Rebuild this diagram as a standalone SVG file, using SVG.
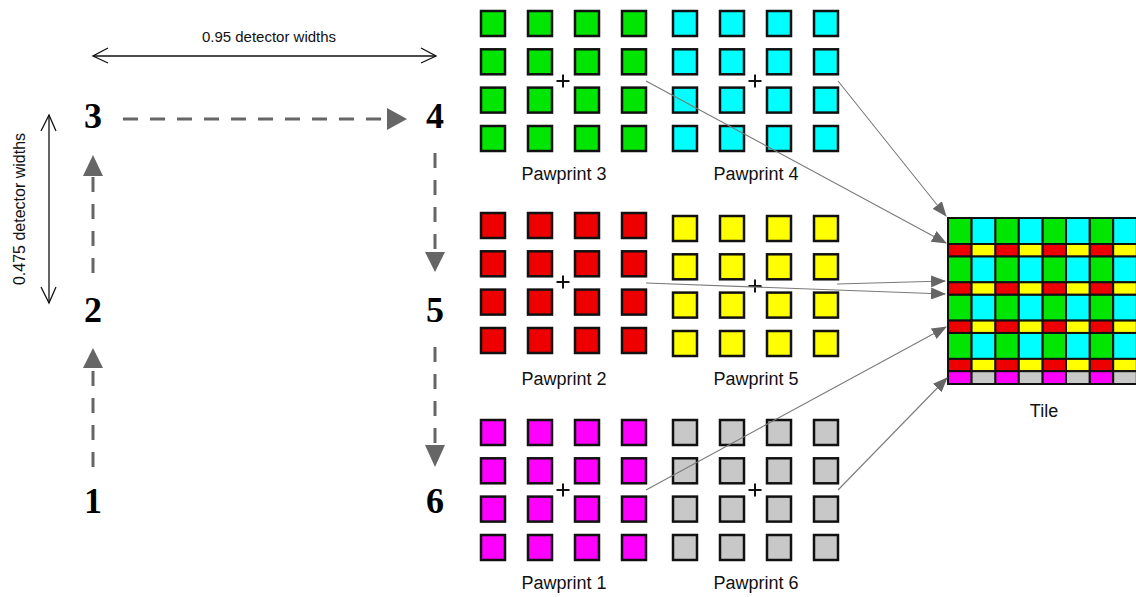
<svg xmlns="http://www.w3.org/2000/svg" width="1136" height="597" viewBox="0 0 1136 597">
<style>
.lbl{font-family:"Liberation Sans",Arial,sans-serif;font-size:18px;fill:#111;text-anchor:middle}
.dim{font-family:"Liberation Sans",Arial,sans-serif;font-size:15px;fill:#111;text-anchor:middle}
.num{font-family:"Liberation Serif","Times New Roman",serif;font-size:36px;font-weight:bold;fill:#000;text-anchor:middle}
.sq{stroke:#111;stroke-width:2.5}
.plus{stroke:#111;stroke-width:2;fill:none}
.dash{stroke:#666;stroke-width:3;stroke-dasharray:15 12;fill:none}
.head{fill:#666}
.thin{stroke:#7a7a7a;stroke-width:1.1;fill:none}
.dimline{stroke:#111;stroke-width:1.3;fill:none}
.t{stroke:#111;stroke-width:2}
</style>
<defs>
<marker id="ah" markerWidth="15" markerHeight="12" refX="14" refY="6" orient="auto" markerUnits="userSpaceOnUse">
<path d="M0,0 L15,6 L0,12 Z" fill="#666"/>
</marker>
<g id="grid">
<rect x="0" y="0" width="24" height="25"/><rect x="47" y="0" width="24" height="25"/><rect x="94" y="0" width="24" height="25"/><rect x="141" y="0" width="24" height="25"/>
<rect x="0" y="38.3" width="24" height="25"/><rect x="47" y="38.3" width="24" height="25"/><rect x="94" y="38.3" width="24" height="25"/><rect x="141" y="38.3" width="24" height="25"/>
<rect x="0" y="76.6" width="24" height="25"/><rect x="47" y="76.6" width="24" height="25"/><rect x="94" y="76.6" width="24" height="25"/><rect x="141" y="76.6" width="24" height="25"/>
<rect x="0" y="115" width="24" height="25"/><rect x="47" y="115" width="24" height="25"/><rect x="94" y="115" width="24" height="25"/><rect x="141" y="115" width="24" height="25"/>
</g>
<path id="plusShape" d="M-6.5,0 H6.5 M0,-6.5 V6.5"/>
</defs>
<rect width="1136" height="597" fill="#fff"/>

<!-- dimension arrows -->
<g id="dims">
<line class="dimline" x1="93" y1="56" x2="436" y2="56"/>
<path class="dimline" d="M108,48 L93,56 L108,63 M421,48 L436,56 L421,63"/>
<text class="dim" x="269" y="42">0.95 detector widths</text>
<line class="dimline" x1="49" y1="115" x2="49" y2="303"/>
<path class="dimline" d="M41,131 L49,115 L56,131 M41,287 L49,303 L56,287"/>
<text class="dim" style="font-size:16px" transform="translate(25,209) rotate(-90)">0.475 detector widths</text>
</g>

<!-- position numbers -->
<g id="positions">
<text class="num" x="93" y="513">1</text>
<text class="num" x="93" y="322">2</text>
<text class="num" x="93" y="128">3</text>
<text class="num" x="435" y="128">4</text>
<text class="num" x="435" y="322">5</text>
<text class="num" x="435" y="513">6</text>
</g>

<!-- dashed offsets -->
<g id="offsets">
<line class="dash" x1="93" y1="467" x2="93" y2="368"/>
<polygon class="head" points="93,348 83,368 103,368"/>
<line class="dash" x1="93" y1="273" x2="93" y2="176"/>
<polygon class="head" points="93,155 83,176 103,176"/>
<line class="dash" x1="123" y1="119" x2="388" y2="119"/>
<polygon class="head" points="407,119 387,108 387,130"/>
<line class="dash" x1="435" y1="153" x2="435" y2="252"/>
<polygon class="head" points="435,272 425,252 445,252"/>
<line class="dash" x1="435" y1="347" x2="435" y2="445"/>
<polygon class="head" points="435,467 425,445 445,445"/>
</g>

<!-- pawprints -->
<g id="pawprint3">
<use href="#grid" x="481" y="11" fill="#00e600" class="sq"/>
<use href="#plusShape" x="563" y="81" class="plus"/>
<text class="lbl" x="564" y="180">Pawprint 3</text>
</g>
<g id="pawprint4">
<use href="#grid" x="673" y="11" fill="#00ffff" class="sq"/>
<use href="#plusShape" x="755" y="81" class="plus"/>
<text class="lbl" x="756" y="180">Pawprint 4</text>
</g>
<g id="pawprint2">
<use href="#grid" x="481" y="213" fill="#ee0000" class="sq"/>
<use href="#plusShape" x="563" y="282" class="plus"/>
<text class="lbl" x="564" y="385">Pawprint 2</text>
</g>
<g id="pawprint5">
<use href="#grid" x="673" y="216" fill="#ffff00" class="sq"/>
<use href="#plusShape" x="755" y="286" class="plus"/>
<text class="lbl" x="756" y="385">Pawprint 5</text>
</g>
<g id="pawprint1">
<use href="#grid" x="481" y="420" fill="#ff00ff" class="sq"/>
<use href="#plusShape" x="563" y="490" class="plus"/>
<text class="lbl" x="564" y="589">Pawprint 1</text>
</g>
<g id="pawprint6">
<use href="#grid" x="673" y="420" fill="#c8c8c8" class="sq"/>
<use href="#plusShape" x="755" y="490" class="plus"/>
<text class="lbl" x="756" y="589">Pawprint 6</text>
</g>

<!-- tile -->
<g id="tile" class="t">
<g fill="#00e600">
<rect x="948" y="218" width="23.6" height="26"/><rect x="995.2" y="218" width="23.6" height="26"/><rect x="1042.4" y="218" width="23.6" height="26"/><rect x="1089.6" y="218" width="23.6" height="26"/>
<rect x="948" y="256.3" width="23.6" height="26"/><rect x="995.2" y="256.3" width="23.6" height="26"/><rect x="1042.4" y="256.3" width="23.6" height="26"/><rect x="1089.6" y="256.3" width="23.6" height="26"/>
<rect x="948" y="294.6" width="23.6" height="26"/><rect x="995.2" y="294.6" width="23.6" height="26"/><rect x="1042.4" y="294.6" width="23.6" height="26"/><rect x="1089.6" y="294.6" width="23.6" height="26"/>
<rect x="948" y="332.9" width="23.6" height="26"/><rect x="995.2" y="332.9" width="23.6" height="26"/><rect x="1042.4" y="332.9" width="23.6" height="26"/><rect x="1089.6" y="332.9" width="23.6" height="26"/>
</g>
<g fill="#00ffff">
<rect x="971.6" y="218" width="23.6" height="26"/><rect x="1018.8" y="218" width="23.6" height="26"/><rect x="1066" y="218" width="23.6" height="26"/><rect x="1113.2" y="218" width="23.6" height="26"/>
<rect x="971.6" y="256.3" width="23.6" height="26"/><rect x="1018.8" y="256.3" width="23.6" height="26"/><rect x="1066" y="256.3" width="23.6" height="26"/><rect x="1113.2" y="256.3" width="23.6" height="26"/>
<rect x="971.6" y="294.6" width="23.6" height="26"/><rect x="1018.8" y="294.6" width="23.6" height="26"/><rect x="1066" y="294.6" width="23.6" height="26"/><rect x="1113.2" y="294.6" width="23.6" height="26"/>
<rect x="971.6" y="332.9" width="23.6" height="26"/><rect x="1018.8" y="332.9" width="23.6" height="26"/><rect x="1066" y="332.9" width="23.6" height="26"/><rect x="1113.2" y="332.9" width="23.6" height="26"/>
</g>
<g fill="#ee0000">
<rect x="948" y="244" width="23.6" height="12.3"/><rect x="995.2" y="244" width="23.6" height="12.3"/><rect x="1042.4" y="244" width="23.6" height="12.3"/><rect x="1089.6" y="244" width="23.6" height="12.3"/>
<rect x="948" y="282.3" width="23.6" height="12.3"/><rect x="995.2" y="282.3" width="23.6" height="12.3"/><rect x="1042.4" y="282.3" width="23.6" height="12.3"/><rect x="1089.6" y="282.3" width="23.6" height="12.3"/>
<rect x="948" y="320.6" width="23.6" height="12.3"/><rect x="995.2" y="320.6" width="23.6" height="12.3"/><rect x="1042.4" y="320.6" width="23.6" height="12.3"/><rect x="1089.6" y="320.6" width="23.6" height="12.3"/>
<rect x="948" y="358.9" width="23.6" height="12.3"/><rect x="995.2" y="358.9" width="23.6" height="12.3"/><rect x="1042.4" y="358.9" width="23.6" height="12.3"/><rect x="1089.6" y="358.9" width="23.6" height="12.3"/>
</g>
<g fill="#ffff00">
<rect x="971.6" y="244" width="23.6" height="12.3"/><rect x="1018.8" y="244" width="23.6" height="12.3"/><rect x="1066" y="244" width="23.6" height="12.3"/><rect x="1113.2" y="244" width="23.6" height="12.3"/>
<rect x="971.6" y="282.3" width="23.6" height="12.3"/><rect x="1018.8" y="282.3" width="23.6" height="12.3"/><rect x="1066" y="282.3" width="23.6" height="12.3"/><rect x="1113.2" y="282.3" width="23.6" height="12.3"/>
<rect x="971.6" y="320.6" width="23.6" height="12.3"/><rect x="1018.8" y="320.6" width="23.6" height="12.3"/><rect x="1066" y="320.6" width="23.6" height="12.3"/><rect x="1113.2" y="320.6" width="23.6" height="12.3"/>
<rect x="971.6" y="358.9" width="23.6" height="12.3"/><rect x="1018.8" y="358.9" width="23.6" height="12.3"/><rect x="1066" y="358.9" width="23.6" height="12.3"/><rect x="1113.2" y="358.9" width="23.6" height="12.3"/>
</g>
<g fill="#ff00ff">
<rect x="948" y="371.2" width="23.6" height="12.8"/><rect x="995.2" y="371.2" width="23.6" height="12.8"/><rect x="1042.4" y="371.2" width="23.6" height="12.8"/><rect x="1089.6" y="371.2" width="23.6" height="12.8"/>
</g>
<g fill="#c8c8c8">
<rect x="971.6" y="371.2" width="23.6" height="12.8"/><rect x="1018.8" y="371.2" width="23.6" height="12.8"/><rect x="1066" y="371.2" width="23.6" height="12.8"/><rect x="1113.2" y="371.2" width="23.6" height="12.8"/>
</g>
<text class="lbl" x="1044" y="417" stroke="none">Tile</text>
</g>

<!-- connectors to tile -->
<g id="connectors">
<line class="thin" x1="838" y1="81" x2="946" y2="216" marker-end="url(#ah)"/>
<line class="thin" x1="646" y1="81" x2="946" y2="243" marker-end="url(#ah)"/>
<line class="thin" x1="837" y1="284" x2="945" y2="281" marker-end="url(#ah)"/>
<line class="thin" x1="646" y1="283" x2="945" y2="294" marker-end="url(#ah)"/>
<line class="thin" x1="646" y1="490" x2="946" y2="327" marker-end="url(#ah)"/>
<line class="thin" x1="838" y1="490" x2="947" y2="378" marker-end="url(#ah)"/>
</g>
</svg>
